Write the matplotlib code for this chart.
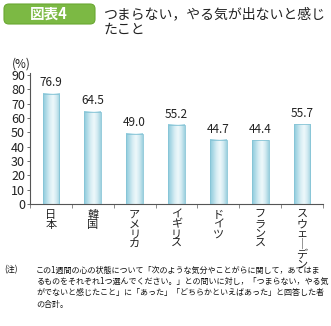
import matplotlib
matplotlib.use("Agg")
import matplotlib.pyplot as plt
import numpy as np
from matplotlib.patches import FancyBboxPatch
from matplotlib.colors import LinearSegmentedColormap

plt.rcParams['font.family'] = ['Noto Sans CJK JP', 'DejaVu Sans']

categories = ["日本", "韓国", "アメリカ", "イギリス", "ドイツ", "フランス", "スウェ｜デン"]
values = [76.9, 64.5, 49.0, 55.2, 44.7, 44.4, 55.7]
yticks = [0, 10, 20, 30, 40, 50, 60, 70, 80, 90]
title_lines = ["つまらない，やる気が出ないと感じ", "たこと"]
badge = "図表4"
note_lines = [
    "この1週間の心の状態について「次のような気分やことがらに関して，あてはま",
    "るものをそれぞれ1つ選んでください。」との問いに対し，「つまらない，やる気",
    "がでないと感じたこと」に「あった」「どちらかといえばあった」と回答した者",
    "の合計。",
]

W, H = 331, 326
fig = plt.figure(figsize=(W / 100, H / 100), dpi=100)

def fx(px):
    return px / W

def fy(py):
    return 1 - py / H

# badge
box = FancyBboxPatch((fx(4), fy(24)), fx(91), 20 / H,
                     boxstyle="round,pad=0,rounding_size=0.015",
                     transform=fig.transFigure, facecolor="#7cb944",
                     edgecolor="#6aa832", lw=0.8)
fig.patches.append(box)
fig.text(fx(49), fy(14), badge, color="white", fontsize=10.5, fontweight="bold",
         ha="center", va="center")
fig.text(fx(104), fy(14), title_lines[0], fontsize=10, ha="left", va="center", color="#222222")
fig.text(fx(104), fy(30), title_lines[1], fontsize=10, ha="left", va="center", color="#222222")

# axes
left, right = 30, 323
top90, bottom0 = 75, 204
ax = fig.add_axes([fx(left), fy(bottom0), (right - left) / W, (bottom0 - top90) / H])
ax.set_xlim(-0.5, len(categories) - 0.5)
ax.set_ylim(0, 90)
ax.set_facecolor("none")
for s in ["top", "right"]:
    ax.spines[s].set_visible(False)
ax.spines["left"].set_color("#555555")
ax.spines["bottom"].set_color("#555555")
ax.spines["left"].set_linewidth(0.8)
ax.spines["bottom"].set_linewidth(0.8)
ax.spines["left"].set_bounds(0, 91.5)

ax.set_yticks(yticks)
ax.set_yticklabels([str(v) for v in yticks], fontsize=9, color="#222222")
ax.tick_params(axis="y", length=2.5, width=0.6, pad=1, color="#555555")
ax.set_xticks(np.arange(len(categories) + 1) - 0.5)
ax.set_xticklabels([])
ax.tick_params(axis="x", length=3, width=0.6, direction="out", color="#777777")

cmap = LinearSegmentedColormap.from_list(
    "barg", ["#8ccbdc", "#b2dce8", "#d9eef4", "#eef8fb", "#d2eaf1", "#9fd2e0"])
grad = np.linspace(0, 1, 64).reshape(1, -1)
bw = 0.4
x = np.arange(len(categories))
bars = ax.bar(x, values, width=bw, color="none", edgecolor="#86c4d6", lw=0.6, zorder=3)
for b, v in zip(bars, values):
    ax.imshow(grad, cmap=cmap, aspect="auto",
              extent=[b.get_x(), b.get_x() + b.get_width(), 0, v], zorder=2)
    ax.text(b.get_x() + b.get_width() / 2, v + 3, f"{v:.1f}", ha="center", va="bottom",
            fontsize=8.5, color="#222222")
ax.set_xlim(-0.5, len(categories) - 0.5)
ax.set_ylim(0, 90)

ax.text(-0.03, 1.035, "(%)", transform=ax.transAxes, fontsize=8.5, ha="center", va="bottom",
        color="#222222")

for i, c in enumerate(categories):
    ax.text(i, -4.2, "\n".join(c), ha="center", va="top", fontsize=8, linespacing=0.95,
            color="#222222")

# notes
fig.text(fx(4), fy(270), "(注)", fontsize=5.8, ha="left", va="center", color="#111111")
for i, line in enumerate(note_lines):
    fig.text(fx(36), fy(270 + 11.5 * i), line, fontsize=5.8, ha="left", va="center",
             color="#111111")

fig.savefig("out.png", dpi=100)
